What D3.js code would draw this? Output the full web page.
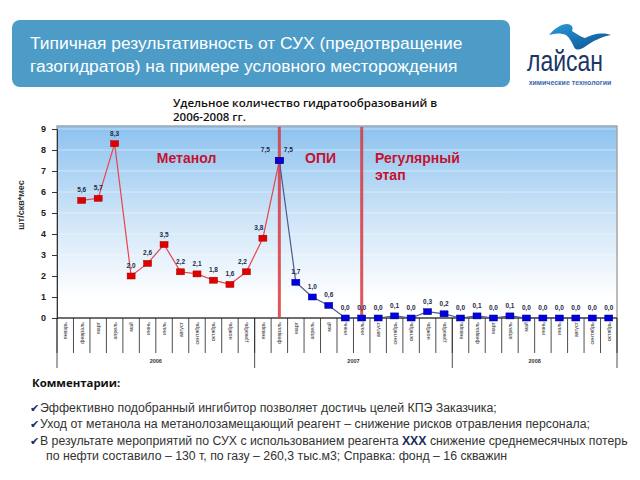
<!DOCTYPE html>
<html>
<head>
<meta charset="utf-8">
<script src="https://cdn.jsdelivr.net/npm/d3@7"></script>
<style>
    body { margin: 0; background: #fff; }
    svg { display: block; font-family: "Liberation Sans", Arial, sans-serif; }
</style>
</head>
<body>
<div id="chart"></div>
<script>
// Month names and years
const monthNames = ["январь", "февраль", "март", "апрель", "май", "июнь",
    "июль", "август", "сентябрь", "октябрь", "ноябрь", "декабрь"];
const years = ["2006", "2007", "2008"];
const monthsPerYear = [12, 12, 10];

// Series values (null = no data)
const methanolValues = [null, 5.6, 5.7, 8.3, 2.0, 2.6, 3.5, 2.2, 2.1, 1.8, 1.6, 2.2,
    3.8, 7.5, null, null, null, null, null, null, null, null, null, null,
    null, null, null, null, null, null, null, null, null, null];
const inhibitorValues = [null, null, null, null, null, null, null, null, null, null, null, null,
    null, 7.5, 1.7, 1.0, 0.6, 0.0, 0.0, 0.0, 0.1, 0.0, 0.3, 0.2,
    0.0, 0.1, 0.0, 0.1, 0.0, 0.0, 0.0, 0.0, 0.0, 0.0];

// Phase boundaries (category index) and phase captions
const phaseLines = [13, 18];
const phaseLabels = [["Метанол"], ["ОПИ"], ["Регулярный", "этап"]];
const phaseLabelAt = [6, 15, 19];

const yTicks = [0, 1, 2, 3, 4, 5, 6, 7, 8, 9];

const titleLines = ["Типичная результативность от СУХ (предотвращение",
    "газогидратов) на примере условного месторождения"];
const chartTitle = ["Удельное количество гидратообразований в", "2006-2008 гг."];
const comments = [
    [["Эффективно подобранный ингибитор позволяет достичь целей КПЭ Заказчика;", false]],
    [[" Уход от метанола на метанолозамещающий реагент – снижение рисков отравления персонала;", false]],
    [["В результате мероприятий по СУХ с использованием реагента ", false], ["XXX", true],
        [" снижение среднемесячных потерь", false]]
];
const commentTail = "по нефти составило – 130 т, по газу – 260,3 тыс.м3;  Справка: фонд – 16 скважин";

// Build categories
const categories = [];
years.forEach((yr, yi) => {
    for (let m = 0; m < monthsPerYear[yi]; m++) {
        categories.push({ key: yr + "-" + m, month: monthNames[m], year: yr });
    }
});

const svg = d3.select("#chart")
    .append("svg")
    .attr("width", 640)
    .attr("height", 480);

const defs = svg.append("defs");
const grad = defs.append("linearGradient")
    .attr("id", "bg")
    .attr("x1", 0).attr("y1", 0).attr("x2", 0).attr("y2", 1);
grad.append("stop").attr("offset", "0%").attr("stop-color", "#8cc2ef");
grad.append("stop").attr("offset", "45%").attr("stop-color", "#cbe3f7");
grad.append("stop").attr("offset", "90%").attr("stop-color", "#ffffff");

const birdGrad = defs.append("linearGradient")
    .attr("id", "bird")
    .attr("x1", 0).attr("y1", 0).attr("x2", 1).attr("y2", 1);
birdGrad.append("stop").attr("offset", "0%").attr("stop-color", "#2a9ad8");
birdGrad.append("stop").attr("offset", "100%").attr("stop-color", "#0b4f8f");

// Header
svg.append("rect")
    .attr("x", 12).attr("y", 20)
    .attr("width", 498).attr("height", 67)
    .attr("rx", 8)
    .style("fill", "#4d9cc7");

svg.selectAll(".title")
    .data(titleLines)
    .enter()
    .append("text")
    .attr("x", 30)
    .attr("y", (d, i) => 49 + i * 23)
    .text(d => d)
    .style("fill", "#fff")
    .style("font-size", "17.4px");

// Logo
svg.append("path")
    .attr("d", "M549,35 C555,28 561,24 567,24 C571,24 574,27 572,31 C577,34 581,37 585,38 " +
        "C593,34 601,32 611,35 C601,37 593,41 586,46 C581,50 576,51 574,47 " +
        "C572,43 570,38 566,35 C561,33 555,33 549,35 Z")
    .style("fill", "url(#bird)");
svg.append("text")
    .attr("x", 527).attr("y", 71)
    .attr("textLength", 76)
    .attr("lengthAdjust", "spacingAndGlyphs")
    .text("лайсан")
    .style("fill", "#1b3566")
    .style("font-size", "29px");
svg.append("text")
    .attr("x", 570).attr("y", 85)
    .attr("text-anchor", "middle")
    .text("химические технологии")
    .style("fill", "#3a68b0")
    .style("font-size", "7px")
    .style("font-weight", "bold");

// Chart title
svg.selectAll(".ctitle")
    .data(chartTitle)
    .enter()
    .append("text")
    .attr("x", 173)
    .attr("y", (d, i) => 107 + i * 14)
    .text(d => d)
    .style("fill", "#111")
    .style("font-family", "'Open Sans', sans-serif")
    .style("font-size", "11.5px")
    .style("font-weight", 600);

// Scales
const x = d3.scaleBand()
    .domain(categories.map(d => d.key))
    .range([57, 617]);
const y = d3.scaleLinear()
    .domain([0, 9])
    .range([318, 129]);
const cx = i => x(categories[i].key) + x.bandwidth() / 2;

// Plot background
svg.append("rect")
    .attr("x", 57).attr("y", 126)
    .attr("width", 560).attr("height", 192)
    .style("fill", "url(#bg)")
    .style("stroke", "#a6a6a6")
    .style("stroke-width", 1.5);

// Faint grid
svg.selectAll(".grid")
    .data(yTicks.slice(1))
    .enter()
    .append("line")
    .attr("x1", 58).attr("x2", 616)
    .attr("y1", d => y(d)).attr("y2", d => y(d))
    .style("stroke", "#ffffff")
    .style("stroke-opacity", 0.45);

// Y axis
const yAxis = svg.append("g")
    .attr("transform", "translate(57,0)")
    .call(d3.axisLeft(y).tickValues(yTicks).tickSize(5).tickPadding(6).tickFormat(d3.format("d")));
yAxis.select(".domain").style("stroke", "#333");
yAxis.selectAll("line").style("stroke", "#333");
yAxis.selectAll("text")
    .style("font-size", "9px")
    .style("font-weight", "bold")
    .style("fill", "#222");

svg.append("text")
    .attr("transform", "translate(24,205) rotate(-90)")
    .attr("text-anchor", "middle")
    .text("шт/скв*мес")
    .style("font-size", "9px")
    .style("font-weight", "bold")
    .style("fill", "#333");

// X axis: category dividers and month labels
const bottom = svg.append("g");
bottom.append("line")
    .attr("x1", 57).attr("x2", 617)
    .attr("y1", 318).attr("y2", 318)
    .style("stroke", "#222");

bottom.selectAll(".div")
    .data(d3.range(categories.length + 1))
    .enter()
    .append("line")
    .attr("x1", i => 57 + i * x.step())
    .attr("x2", i => 57 + i * x.step())
    .attr("y1", 318)
    .attr("y2", 353)
    .style("stroke", "#222")
    .style("stroke-width", 0.8);

// Year dividers
let acc = 0;
const yearEdges = [0];
monthsPerYear.forEach(n => { acc += n; yearEdges.push(acc); });
bottom.selectAll(".ydiv")
    .data(yearEdges)
    .enter()
    .append("line")
    .attr("x1", i => 57 + i * x.step())
    .attr("x2", i => 57 + i * x.step())
    .attr("y1", 318)
    .attr("y2", 368)
    .style("stroke", "#222")
    .style("stroke-width", 0.8);

bottom.selectAll(".ylab")
    .data(years)
    .enter()
    .append("text")
    .attr("x", (d, i) => 57 + (yearEdges[i] + yearEdges[i + 1]) / 2 * x.step())
    .attr("y", 363)
    .attr("text-anchor", "middle")
    .text(d => d)
    .style("font-size", "5.5px")
    .style("font-weight", "bold")
    .style("fill", "#333");

bottom.selectAll(".mlab")
    .data(categories)
    .enter()
    .append("text")
    .attr("transform", (d, i) => `translate(${cx(i) + 2},322) rotate(-90)`)
    .attr("text-anchor", "end")
    .text(d => d.month)
    .style("font-size", "5.3px")
    .style("fill", "#333");

// Phase boundary lines
svg.selectAll(".phase")
    .data(phaseLines)
    .enter()
    .append("line")
    .attr("x1", d => cx(d)).attr("x2", d => cx(d))
    .attr("y1", 127).attr("y2", 318)
    .style("stroke", "#d8373f")
    .style("stroke-width", 3)
    .style("stroke-opacity", 0.85);

// Phase captions
const phaseDx = [1, 1, 5];
phaseLabels.forEach((lines, pi) => {
    svg.append("text")
        .selectAll("tspan")
        .data(lines)
        .enter()
        .append("tspan")
        .attr("x", x(categories[phaseLabelAt[pi]].key) + phaseDx[pi])
        .attr("y", (d, i) => 163 + i * 17)
        .text(d => d)
        .style("fill", "#c4122f")
        .style("font-size", "14px")
        .style("font-weight", "bold");
});

// Series
const seriesList = [
    { values: methanolValues, line: "#e8434a", fill: "#e00000", stroke: "#a00000" },
    { values: inhibitorValues, line: "#4a5a90", fill: "#0000e0", stroke: "#000090" }
];
const fmt = v => d3.format(".1f")(v).replace(".", ",");

seriesList.forEach((s, si) => {
    const pts = s.values.map((v, i) => ({ i, v })).filter(d => d.v !== null);

    svg.append("path")
        .datum(pts)
        .attr("d", d3.line().x(d => cx(d.i)).y(d => y(d.v)))
        .style("fill", "none")
        .style("stroke", s.line)
        .style("stroke-width", 1.2);

    svg.selectAll(".m" + si)
        .data(pts)
        .enter()
        .append("rect")
        .attr("x", d => cx(d.i) - 4)
        .attr("y", d => y(d.v) - 3)
        .attr("width", 8)
        .attr("height", 6)
        .style("fill", s.fill)
        .style("stroke", s.stroke)
        .style("stroke-width", 0.5);

    svg.selectAll(".l" + si)
        .data(pts)
        .enter()
        .append("text")
        .attr("x", d => {
            if (d.i === 13) return cx(d.i) + (si === 0 ? -14 : 9);
            if (si === 0 && d.i >= 11) return cx(d.i) - 4;
            return cx(d.i);
        })
        .attr("y", d => y(d.v) - (d.i === 13 ? 9 : 8))
        .attr("text-anchor", "middle")
        .text(d => fmt(d.v))
        .style("font-size", "6.5px")
        .style("font-weight", "bold")
        .style("fill", "#1c2a4a");
});

// Comments
svg.append("text")
    .attr("x", 32).attr("y", 387)
    .text("Комментарии:")
    .style("font-family", "'Open Sans', sans-serif")
    .style("font-size", "11.4px")
    .style("font-weight", "bold")
    .style("fill", "#111");

const cm = svg.selectAll(".cm")
    .data(comments)
    .enter()
    .append("g");
cm.append("text")
    .attr("x", 30)
    .attr("y", (d, i) => 412 + i * 16.3)
    .text("✔")
    .style("font-family", "'DejaVu Sans'")
    .style("font-size", "11px")
    .style("fill", "#1b2d5c");
cm.append("text")
    .attr("x", 40)
    .attr("y", (d, i) => 412 + i * 16.3)
    .selectAll("tspan")
    .data(d => d)
    .enter()
    .append("tspan")
    .text(d => d[0])
    .style("font-size", "12.3px")
    .style("font-weight", d => d[1] ? "bold" : "normal")
    .style("fill", d => d[1] ? "#1b2d5c" : "#333");

svg.append("text")
    .attr("x", 46).attr("y", 460)
    .text(commentTail)
    .style("font-size", "12.3px")
    .style("fill", "#333");
</script>
</body>
</html>
